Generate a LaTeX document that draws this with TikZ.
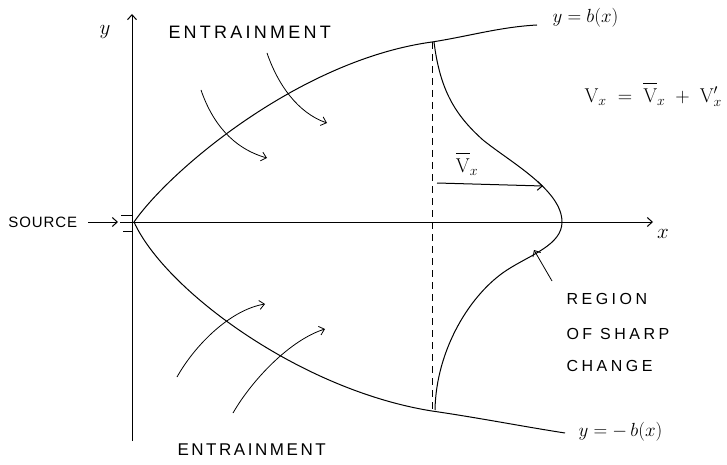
\RequirePackage{fix-cm}
\documentclass[tikz,border=0pt]{standalone}
\usepackage{fontspec}
\newfontfamily\capsA[LetterSpace=18]{Liberation Sans}
\newfontfamily\capsB[LetterSpace=15]{Liberation Sans}
\newfontfamily\capsC[LetterSpace=22]{Liberation Sans}
\newfontfamily\capsD[LetterSpace=6]{Liberation Sans}
\newcommand{\Vbar}{\overline{\mathrm{V}\rule{0pt}{0.85em}}}
\usetikzlibrary{arrows.meta}
\begin{document}
\begin{tikzpicture}[x=1pt,y=-1pt, line width=1pt,
  >={Straight Barb[length=5pt,width=9pt]},
  capsbig/.style={font=\capsA\fontsize{18}{21}\selectfont, inner sep=0},
  capsbot/.style={font=\capsB\fontsize{17}{20}\selectfont, inner sep=0},
  capsreg/.style={font=\capsC\fontsize{16}{19}\selectfont, inner sep=0},
  capssrc/.style={font=\capsD\fontsize{15}{18}\selectfont, inner sep=0},
  mlbl/.style={font=\fontsize{19}{22}\selectfont, inner sep=0},
  axlbl/.style={font=\fontsize{21}{24}\selectfont, inner sep=0},
  flow/.style={->, line width=0.8pt}]
\useasboundingbox (0,0) rectangle (727,465);

% axes
\coordinate (O) at (132,222);
\coordinate (ybot) at (132,441);
\coordinate (ytop) at (132,14);
\coordinate (xleft) at (120,222);
\coordinate (xright) at (653,222);
\draw[->] (ybot) -- (ytop);
\draw[->] (xleft) -- (xright);
\node[axlbl] (ylab) at (105,32) {$y$};
\node[axlbl] (xlab) at (663,234) {$x$};

% source
\node[capssrc, anchor=west] (source) at (8,222) {SOURCE};
\coordinate (srcA) at (88,222);
\coordinate (srcB) at (118,222);
\draw[->] (srcA) -- (srcB);
\draw[line width=0.8pt] (121,215) -- (133,215);
\draw[line width=0.8pt] (123,231) -- (133,231);

% jet boundaries
\coordinate (uend) at (537,25);
\coordinate (lend) at (565,433);
\coordinate (dtop) at (432,42);
\coordinate (dbot) at (432,411);
\draw (134,222) .. controls (170,170) and (300,60) .. (dtop)
      .. controls (470,36) and (500,27) .. (uend);
\draw (134,222) .. controls (165,290) and (300,390) .. (dbot)
      .. controls (480,418) and (520,426) .. (lend);
\node[mlbl, anchor=west] (ub) at (552,18) {$y = b(x)$};
\node[mlbl, anchor=west] (lb) at (578,432) {$y = -\,b(x)$};

% dashed section
\draw[dash pattern=on 7pt off 5pt, line width=0.8pt] (dtop) -- (dbot);

% velocity profile
\coordinate (ptop) at (434,42);
\coordinate (pm1) at (483,140);
\coordinate (peak) at (562,222);
\coordinate (pm2) at (507,270);
\coordinate (pbot) at (435,410);
\draw (ptop) .. controls (440,90) and (455,115) .. (pm1)
      .. controls (510,162) and (562,190) .. (peak)
      .. controls (562,245) and (530,255) .. (pm2)
      .. controls (470,294) and (436,350) .. (pbot);
\coordinate (vA) at (437,183);
\coordinate (vB) at (543,186);
\draw[->] (vA) -- (vB);
\node[font=\fontsize{20}{23}\selectfont, inner sep=0] (vbar) at (467,164) {$\Vbar_x$};

% equation
\node[font=\fontsize{20}{23}\selectfont, inner sep=0, anchor=west] (eq) at (584,95) {$\mathrm{V}_x \;=\; \Vbar_x \;+\; \mathrm{V}'_x$};

% region of sharp change
\coordinate (rA) at (552,281);
\coordinate (rB) at (534,250);
\draw[->, line width=0.8pt] (rA) -- (rB);
\node[capsreg, anchor=west] (reg1) at (566,299) {REGION};
\node[capsreg, anchor=west] (reg2) at (566,334) {OF SHARP};
\node[capsreg, anchor=west] (reg3) at (566,366) {CHANGE};

% entrainment
\node[capsbig, anchor=west] (entT) at (168,32) {ENTRAINMENT};
\node[capsbot, anchor=west] (entB) at (177,450) {ENTRAINMENT};
\coordinate (a1s) at (201,90);  \coordinate (a1e) at (267,158);
\coordinate (a2s) at (267,53);  \coordinate (a2e) at (327,123);
\coordinate (b1s) at (177,377); \coordinate (b1e) at (265,304);
\coordinate (b2s) at (233,413); \coordinate (b2e) at (325,329);
\draw[flow] (a1s) .. controls (212,122) and (232,148) .. (a1e);
\draw[flow] (a2s) .. controls (278,85) and (298,113) .. (a2e);
\draw[flow] (b1s) .. controls (195,345) and (230,310) .. (b1e);
\draw[flow] (b2s) .. controls (252,380) and (290,340) .. (b2e);
\end{tikzpicture}
\end{document}
